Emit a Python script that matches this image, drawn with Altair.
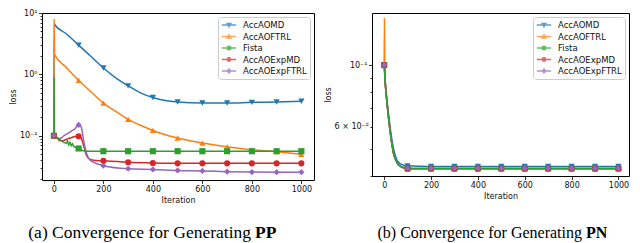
import altair as alt
import pandas as pd

series_names = ["AccAOMD", "AccAOFTRL", "Fista", "AccAOExpMD", "AccAOExpFTRL"]
series_colors = ["#1f77b4", "#ff7f0e", "#2ca02c", "#d62728", "#9467bd"]
marker_shapes = ["triangle-down", "triangle-up", "square", "circle", "diamond"]
legend_paths = [
    "M-1.8,0H1.8M-0.45,-0.35L0.45,-0.35L0,0.45Z",
    "M-1.8,0H1.8M-0.45,0.35L0.45,0.35L0,-0.45Z",
    "M-1.8,0H1.8M-0.38,-0.38H0.38V0.38H-0.38Z",
    "M-1.8,0H1.8M0.42,0A0.42,0.42,0,1,1,-0.42,0A0.42,0.42,0,1,1,0.42,0Z",
    "M-1.8,0H1.8M0,-0.5L0.45,0L0,0.5L-0.45,0Z",
]

# ---------- (a) PP ----------
pp_omd_x = [0, 1, 3, 50, 100, 150, 200, 250, 300, 350, 400, 450, 500, 600, 700, 800, 900, 1000]
pp_omd_y = [0.1, 6.8, 6.5, 4.6, 3.0, 1.95, 1.27, 0.88, 0.65, 0.5, 0.42, 0.375, 0.355, 0.342, 0.342, 0.35, 0.355, 0.365]
pp_ftrl_x = [0, 1, 3, 50, 100, 150, 200, 250, 300, 350, 400, 450, 500, 600, 700, 800, 900, 1000]
pp_ftrl_y = [0.1, 8.0, 2.1, 1.3, 0.8, 0.52, 0.34, 0.25, 0.185, 0.148, 0.122, 0.104, 0.092, 0.076, 0.066, 0.059, 0.055, 0.050]
pp_fista_x = [0, 1, 2, 10, 20, 30, 40, 50, 55, 60, 65, 70, 75, 80, 90, 100, 110, 130, 200, 300, 400, 500, 600, 700, 800, 900, 1000]
pp_fista_y = [0.1, 0.9, 0.1, 0.093, 0.09, 0.083, 0.078, 0.075, 0.082, 0.071, 0.078, 0.069, 0.074, 0.067, 0.064, 0.062, 0.058, 0.056, 0.056, 0.056, 0.056, 0.056, 0.056, 0.056, 0.056, 0.056, 0.056]
pp_expmd_x = [0, 10, 25, 40, 55, 70, 85, 100, 110, 120, 130, 140, 160, 200, 300, 400, 500, 600, 700, 800, 900, 1000]
pp_expmd_y = [0.1, 0.095, 0.083, 0.084, 0.089, 0.093, 0.097, 0.098, 0.092, 0.07, 0.05, 0.043, 0.04, 0.039, 0.037, 0.036, 0.0355, 0.0355, 0.0355, 0.0355, 0.0355, 0.0355]
pp_expftrl_x = [0, 10, 20, 30, 40, 55, 70, 85, 100, 110, 120, 130, 140, 160, 200, 300, 400, 500, 600, 700, 800, 900, 1000]
pp_expftrl_y = [0.1, 0.095, 0.09, 0.092, 0.1, 0.108, 0.118, 0.13, 0.15, 0.14, 0.085, 0.055, 0.043, 0.037, 0.0325, 0.029, 0.0283, 0.0272, 0.0267, 0.026, 0.0256, 0.0255, 0.0255]

pp_y_ticks = [0.02, 0.03, 0.04, 0.05, 0.06, 0.07, 0.08, 0.09, 0.1, 0.2, 0.3, 0.4, 0.5, 0.6, 0.7, 0.8, 0.9, 1, 2, 3, 4, 5, 6, 7, 8, 9, 10]
pp_y_labeled = [0.1, 1, 10]
pp_y_labels = ["10⁻¹", "10⁰", "10¹"]

# ---------- (b) PN ----------
pn_x = [0, 1, 3, 5, 10, 15, 20, 30, 40, 50, 60, 80, 100, 200, 300, 400, 500, 600, 700, 800, 900, 1000]
pn_omd_y = [0.1, 0.098, 0.092, 0.087, 0.078, 0.071, 0.065, 0.056, 0.05, 0.0465, 0.0448, 0.0437, 0.0434, 0.0432, 0.0432, 0.0432, 0.0432, 0.0432, 0.0432, 0.0432, 0.0432, 0.0432]
pn_ftrl_y = [0.1, 0.147, 0.092, 0.085, 0.076, 0.069, 0.063, 0.054, 0.048, 0.0455, 0.0438, 0.0428, 0.0425, 0.0425, 0.0425, 0.0425, 0.0425, 0.0425, 0.0425, 0.0425, 0.0425, 0.0425]
pn_fista_y = [0.1, 0.098, 0.09, 0.085, 0.076, 0.069, 0.063, 0.054, 0.048, 0.0455, 0.0438, 0.0428, 0.0425, 0.0425, 0.0425, 0.0425, 0.0425, 0.0425, 0.0425, 0.0425, 0.0425, 0.0425]
pn_expmd_y = [0.1, 0.098, 0.09, 0.085, 0.076, 0.069, 0.063, 0.054, 0.048, 0.0455, 0.0438, 0.0428, 0.0424, 0.0424, 0.0424, 0.0424, 0.0424, 0.0424, 0.0424, 0.0424, 0.0424, 0.0424]
pn_expftrl_y = [0.1, 0.098, 0.09, 0.085, 0.076, 0.069, 0.063, 0.054, 0.048, 0.0455, 0.0438, 0.0428, 0.0425, 0.0425, 0.0425, 0.0425, 0.0425, 0.0425, 0.0425, 0.0425, 0.0425, 0.0425]

pn_y_ticks = [0.04, 0.05, 0.06, 0.07, 0.08, 0.09, 0.1]
pn_y_labeled = [0.1, 0.06]
pn_y_labels = ["10⁻¹", "6 × 10⁻²"]

x_ticks = [0, 200, 400, 600, 800, 1000]

caption_a = ["(a) Convergence for Generating", "PP"]
caption_b = ["(b) Convergence for Generating", "PN"]


def make_df(xs_list, ys_list):
    rows = []
    for name, xs, ys in zip(series_names, xs_list, ys_list):
        for xv, yv in zip(xs, ys):
            rows.append({"series": name, "x": xv, "y": yv})
    return pd.DataFrame(rows)


pp_df = make_df([pp_omd_x, pp_ftrl_x, pp_fista_x, pp_expmd_x, pp_expftrl_x],
                [pp_omd_y, pp_ftrl_y, pp_fista_y, pp_expmd_y, pp_expftrl_y])
pn_df = make_df([pn_x] * 5, [pn_omd_y, pn_ftrl_y, pn_fista_y, pn_expmd_y, pn_expftrl_y])

FONT = "DejaVu Sans"
DECADE_TEST = "abs(log(datum.value)/LN10 - round(log(datum.value)/LN10)) < 1e-6"


def label_expr(vals, labels):
    expr = "''"
    for v, l in zip(reversed(vals), reversed(labels)):
        expr = f"abs(datum.value - {v}) < {v}*1e-6 ? '{l}' : " + expr
    return expr


def panel(df, xdom, ydom, yticks, ylab_vals, ylab_text, w, h, caption, cap_split, cap_y, cap_size):
    x_enc = alt.X("x:Q", scale=alt.Scale(domain=xdom, nice=False, zero=False),
                  axis=alt.Axis(values=x_ticks, format="d", title="Iteration", grid=False, domain=False,
                                tickSize=3.5, tickColor="black", tickWidth=0.8,
                                labelFont=FONT, labelFontSize=8, labelColor="#111",
                                titleFont=FONT, titleFontSize=8, titleFontWeight="normal",
                                titleColor="#111", labelPadding=2, titlePadding=3))
    y_enc = alt.Y("y:Q", scale=alt.Scale(type="log", domain=ydom, nice=False, zero=False),
                  axis=alt.Axis(values=yticks, labelExpr=label_expr(ylab_vals, ylab_text),
                                title="loss", grid=False, domain=False,
                                tickSize={"condition": {"test": DECADE_TEST, "value": 3.5}, "value": 2},
                                tickColor="black", tickWidth=0.8,
                                labelFont=FONT, labelFontSize=8, labelColor="#111",
                                titleFont=FONT, titleFontSize=8, titleFontWeight="normal",
                                titleColor="#111", labelPadding=1.5, titlePadding=2))
    # data-derived domain (sorted), so it is not merged with the legend scales below
    color_enc = alt.Color("series:N", sort=series_names, scale=alt.Scale(range=series_colors), legend=None)

    smooth = alt.Chart(df).transform_filter("datum.series != 'Fista'").mark_line(
        strokeWidth=1.5, interpolate="monotone", clip=True
    ).encode(x=x_enc, y=y_enc, color=color_enc, detail="series:N")
    fista = alt.Chart(df).transform_filter("datum.series == 'Fista'").mark_line(
        strokeWidth=1.5, clip=True
    ).encode(x="x:Q", y="y:Q", color=color_enc)

    layers = [smooth, fista]
    for name, shp in zip(series_names, marker_shapes):
        layers.append(
            alt.Chart(df).transform_filter(
                f"datum.series == '{name}' && datum.x % 100 == 0"
            ).mark_point(shape=shp, filled=True, size=38, opacity=1).encode(
                x="x:Q", y="y:Q", color=color_enc)
        )

    leg = alt.Legend(title=None, orient="top-right", offset=4,
                     fillColor="rgba(255,255,255,0.85)", strokeColor="#cccccc", cornerRadius=3,
                     padding=3, symbolSize=64, symbolStrokeWidth=1.5, symbolOffset=3,
                     labelOffset=9, labelFont=FONT, labelFontSize=8.5, labelColor="#111",
                     rowPadding=1.5)
    legend_layer = alt.Chart(df).transform_filter("datum.x < -1e9").mark_point().encode(
        x="x:Q", y="y:Q",
        fill=alt.Fill("series:N", scale=alt.Scale(domain=series_names, range=series_colors), legend=leg),
        stroke=alt.Stroke("series:N", scale=alt.Scale(domain=series_names, range=series_colors), legend=leg),
        shape=alt.Shape("series:N", scale=alt.Scale(domain=series_names, range=legend_paths), legend=leg),
    )
    layers.append(legend_layer)

    cap_df = pd.DataFrame({"a": [caption[0]], "b": [caption[1]]})
    cap1 = alt.Chart(cap_df).mark_text(align="right", baseline="middle", font="Liberation Serif",
                                       fontSize=cap_size, color="black").encode(
        text="a:N", x=alt.value(cap_split - 4), y=alt.value(cap_y))
    cap2 = alt.Chart(cap_df).mark_text(align="left", baseline="middle", font="Liberation Serif",
                                       fontSize=cap_size, fontWeight="bold", color="black").encode(
        text="b:N", x=alt.value(cap_split), y=alt.value(cap_y))
    layers += [cap1, cap2]

    return alt.layer(*layers).properties(width=w, height=h)


left = panel(pp_df, [-48, 1051], [0.019, 10], pp_y_ticks, pp_y_labeled, pp_y_labels,
             272, 167, caption_a, 213, 220, 17.5)
right = panel(pn_df, [-52, 1045], [0.0399, 0.154], pn_y_ticks, pn_y_labeled, pn_y_labels,
              257, 163, caption_b, 214, 220, 16)

chart = alt.hconcat(left, right, spacing=58, bounds="flush").resolve_scale(
    color="independent", fill="independent", stroke="independent", shape="independent"
).resolve_legend(
    color="independent", fill="independent", stroke="independent", shape="independent"
).properties(
    padding={"left": 0, "top": 0, "right": 0, "bottom": 0}
).configure_view(stroke="black", strokeWidth=1)

chart.save("out.html", embed_options={"renderer": "svg", "actions": False})
